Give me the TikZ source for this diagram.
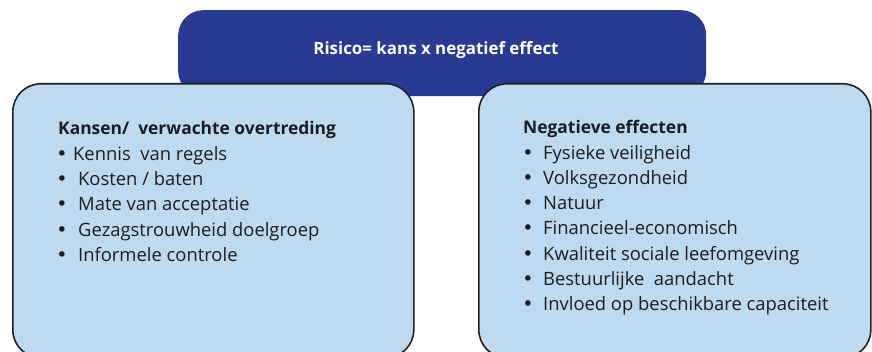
\documentclass[tikz,border=0pt]{standalone}
\usepackage{fontspec}
\setmainfont{Open Sans}
\newfontfamily\bulletfont{DejaVu Sans}
\definecolor{riskblue}{RGB}{40,58,145}
\definecolor{boxblue}{RGB}{190,218,240}
\definecolor{edgegray}{RGB}{35,31,32}
\definecolor{txtgray}{RGB}{30,28,30}
\begin{document}
\begin{tikzpicture}[x=1pt,y=-1pt,
  banner/.style={fill=riskblue, draw=none, rounded corners=25pt, inner sep=0pt, anchor=north west},
  panel/.style={fill=boxblue, draw=edgegray, line width=1.6pt, rounded corners=28pt, inner sep=0pt, anchor=north west},
  bannertext/.style={text=white, font=\fontsize{16.9}{20}\selectfont\bfseries, inner sep=0pt, anchor=base},
  headtext/.style={text=txtgray, font=\fontsize{17.4}{20}\selectfont\bfseries, inner sep=0pt, anchor=base west},
  itemtext/.style={text=txtgray, font=\fontsize{18.4}{22}\selectfont, inner sep=0pt, anchor=base west},
  bullettext/.style={text=txtgray, font=\bulletfont\fontsize{19}{19}\selectfont, inner sep=0pt, anchor=base}
]
\clip (0,0) rectangle (872,352);
\node[banner, minimum width=528pt, minimum height=86pt] (top) at (178,10) {};
\node[bannertext] (toptxt) at (436,55) {Risico= kans x negatief effect};

\node[panel, minimum width=401pt, minimum height=274pt] (left) at (12,83) {};
\node[panel, minimum width=392pt, minimum height=274pt] (right) at (478,83) {};

% left list
\node[headtext] (lh) at (58,135) {Kansen/\ \ verwachte overtreding};
\node[bullettext] (lb1) at (62,160.5) {•};
\node[itemtext] (l1) at (73,160.5) {Kennis\ \ van regels};
\node[bullettext] (lb2) at (62,185.7) {•};
\node[itemtext] (l2) at (78,185.7) {Kosten / baten};
\node[bullettext] (lb3) at (62,210.9) {•};
\node[itemtext] (l3) at (78,210.9) {Mate van acceptatie};
\node[bullettext] (lb4) at (62,236.1) {•};
\node[itemtext] (l4) at (78,236.1) {Gezagstrouwheid doelgroep};
\node[bullettext] (lb5) at (62,261.3) {•};
\node[itemtext] (l5) at (78,261.3) {Informele controle};

% right list
\node[headtext] (rh) at (523,134) {Negatieve effecten};
\node[bullettext] (rb1) at (528,159.3) {•};
\node[itemtext] (r1) at (543,159.3) {Fysieke veiligheid};
\node[bullettext] (rb2) at (528,184.5) {•};
\node[itemtext] (r2) at (543,184.5) {Volksgezondheid};
\node[bullettext] (rb3) at (528,209.7) {•};
\node[itemtext] (r3) at (543,209.7) {Natuur};
\node[bullettext] (rb4) at (528,234.9) {•};
\node[itemtext] (r4) at (543,234.9) {Financieel-economisch};
\node[bullettext] (rb5) at (528,260.1) {•};
\node[itemtext] (r5) at (543,260.1) {Kwaliteit sociale leefomgeving};
\node[bullettext] (rb6) at (528,285.3) {•};
\node[itemtext] (r6) at (543,285.3) {Bestuurlijke\ \ aandacht};
\node[bullettext] (rb7) at (528,310.5) {•};
\node[itemtext] (r7) at (543,310.5) {Invloed op beschikbare capaciteit};
\end{tikzpicture}
\end{document}
